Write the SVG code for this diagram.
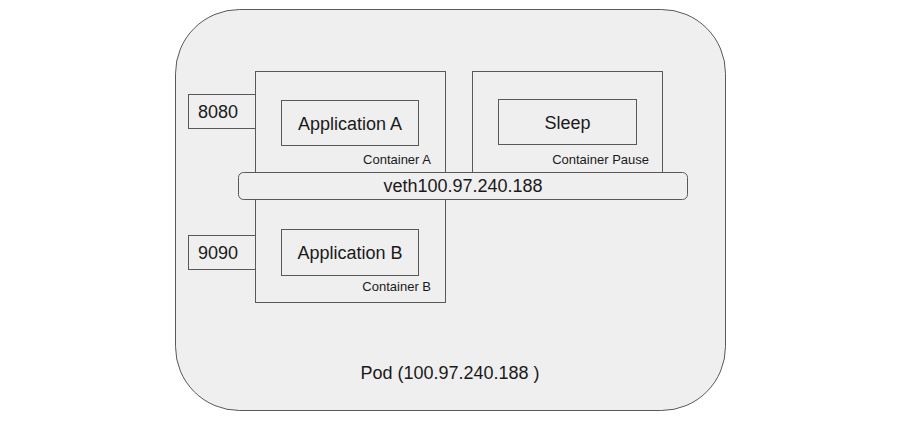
<svg xmlns="http://www.w3.org/2000/svg" width="899" height="422" viewBox="0 0 899 422">
  <style>
    .box { fill: #efefef; stroke: #595959; stroke-width: 1; }
    .t { font-family: "Liberation Sans", Arial, sans-serif; fill: #1a1a1a; }
    .big { font-size: 18px; }
    .small { font-size: 13px; }
  </style>
  <rect x="0" y="0" width="899" height="422" fill="#ffffff"/>

  <g id="pod">
    <rect class="box" x="175.5" y="9.5" width="550" height="401" rx="64" ry="64" stroke="#666666"/>
    <text class="t big" x="450" y="379" text-anchor="middle">Pod (100.97.240.188 )</text>
  </g>

  <g id="container-a">
    <rect class="box" x="255.5" y="71.5" width="190" height="120"/>
    <text class="t small" x="431" y="164" text-anchor="end">Container A</text>
  </g>

  <g id="container-b">
    <rect class="box" x="255.5" y="182.5" width="190" height="120"/>
    <text class="t small" x="431" y="291" text-anchor="end">Container B</text>
  </g>

  <g id="container-pause">
    <rect class="box" x="472.5" y="71.5" width="190" height="120"/>
    <text class="t small" x="649" y="164" text-anchor="end">Container Pause</text>
  </g>

  <g id="app-a">
    <rect class="box" x="281.5" y="100.5" width="137" height="45"/>
    <text class="t big" x="350" y="130" text-anchor="middle">Application A</text>
  </g>

  <g id="app-b">
    <rect class="box" x="281.5" y="229.5" width="137" height="46"/>
    <text class="t big" x="350" y="259" text-anchor="middle">Application B</text>
  </g>

  <g id="sleep">
    <rect class="box" x="498.5" y="99.5" width="138" height="45"/>
    <text class="t big" x="567.5" y="129" text-anchor="middle">Sleep</text>
  </g>

  <g id="port-8080">
    <rect class="box" x="188.5" y="94.5" width="67" height="34"/>
    <text class="t big" x="218" y="118" text-anchor="middle">8080</text>
  </g>

  <g id="port-9090">
    <rect class="box" x="188.5" y="235.5" width="67" height="34"/>
    <text class="t big" x="218" y="259" text-anchor="middle">9090</text>
  </g>

  <g id="veth">
    <rect class="box" x="238.5" y="172.5" width="449" height="27" rx="5" ry="5"/>
    <text class="t big" x="463" y="192" text-anchor="middle">veth100.97.240.188</text>
  </g>

  <g id="connectors"></g>
</svg>
